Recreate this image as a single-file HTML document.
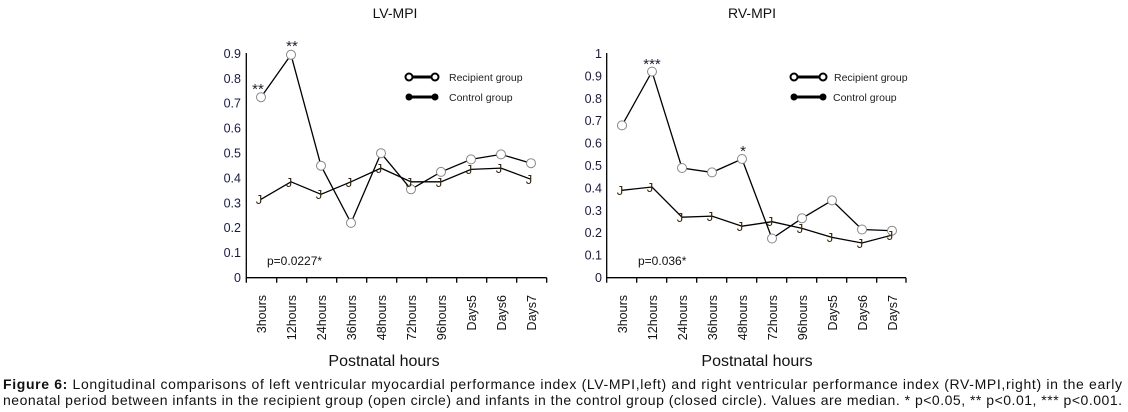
<!DOCTYPE html>
<html><head><meta charset="utf-8"><style>
body{margin:0;background:#fff;}
svg{display:block;font-family:"Liberation Sans",Arial,sans-serif;}
</style></head><body>
<svg width="1128" height="412" viewBox="0 0 1128 412" xmlns="http://www.w3.org/2000/svg">
<rect width="1128" height="412" fill="#fff"/>
<g font-size="14" fill="#111">
<text x="395" y="18" text-anchor="middle">LV-MPI</text>
<text x="752" y="18" text-anchor="middle">RV-MPI</text>
</g>
<g stroke="#000" stroke-width="1.3" fill="none">
<path d="M246.3 53 V277.7 H546.7"/>
<path d="M246.3 277.7v5 M276.7 277.7v5 M306.7 277.7v5 M336.7 277.7v5 M366.7 277.7v5 M396.7 277.7v5 M426.7 277.7v5 M456.7 277.7v5 M486.7 277.7v5 M516.7 277.7v5 M546.7 277.7v5"/>
<path d="M606.7 53 V277.7 H906 M606.7 277.7v5 M636.7 277.7v5 M666.7 277.7v5 M696.7 277.7v5 M726.7 277.7v5 M756.7 277.7v5 M786.7 277.7v5 M816.7 277.7v5 M846.7 277.7v5 M876.7 277.7v5 M906 277.7v5"/>
</g>
<g font-size="12.5" fill="#1a1a40" text-anchor="end">
<text x="241" y="282">0</text><text x="241" y="257.1">0.1</text><text x="241" y="232.2">0.2</text><text x="241" y="207.3">0.3</text><text x="241" y="182.4">0.4</text><text x="241" y="157.5">0.5</text><text x="241" y="132.6">0.6</text><text x="241" y="107.7">0.7</text><text x="241" y="82.8">0.8</text><text x="241" y="57.9">0.9</text>
<text x="602" y="282">0</text><text x="602" y="259.6">0.1</text><text x="602" y="237.2">0.2</text><text x="602" y="214.8">0.3</text><text x="602" y="192.4">0.4</text><text x="602" y="170">0.5</text><text x="602" y="147.6">0.6</text><text x="602" y="125.2">0.7</text><text x="602" y="102.8">0.8</text><text x="602" y="80.4">0.9</text><text x="602" y="58">1</text>
</g>
<g font-size="12.5" fill="#111" text-anchor="end">
<text transform="translate(266,295) rotate(-90)">3hours</text>
<text transform="translate(296,295) rotate(-90)">12hours</text>
<text transform="translate(326,295) rotate(-90)">24hours</text>
<text transform="translate(356,295) rotate(-90)">36hours</text>
<text transform="translate(386,295) rotate(-90)">48hours</text>
<text transform="translate(416,295) rotate(-90)">72hours</text>
<text transform="translate(446,295) rotate(-90)">96hours</text>
<text transform="translate(476,295) rotate(-90)">Days5</text>
<text transform="translate(506,295) rotate(-90)">Days6</text>
<text transform="translate(536,295) rotate(-90)">Days7</text>
<text transform="translate(627,295) rotate(-90)">3hours</text>
<text transform="translate(657,295) rotate(-90)">12hours</text>
<text transform="translate(687,295) rotate(-90)">24hours</text>
<text transform="translate(717,295) rotate(-90)">36hours</text>
<text transform="translate(747,295) rotate(-90)">48hours</text>
<text transform="translate(777,295) rotate(-90)">72hours</text>
<text transform="translate(807,295) rotate(-90)">96hours</text>
<text transform="translate(837,295) rotate(-90)">Days5</text>
<text transform="translate(867,295) rotate(-90)">Days6</text>
<text transform="translate(897,295) rotate(-90)">Days7</text>
</g>
<g font-size="16" fill="#111" text-anchor="middle">
<text x="384" y="366">Postnatal hours</text>
<text x="757" y="366">Postnatal hours</text>
</g>
<g fill="none" stroke="#000" stroke-width="1.3">
<polyline points="261,97.2 291,54.8 321,165.7 351,222.9 381,153.2 411,189.3 441,171.9 471,159.4 501,154.4 531,163.2"/>
<polyline points="261,199.3 291,181.8 321,194.3 351,181.8 381,168.1 411,181.8 441,181.8 471,169.4 501,168.1 531,179.3"/>
<polyline points="622,125.4 652,71.6 682,168 712,172.4 742,159 772,238.5 802,218.3 832,200.4 862,229.5 892,230.7"/>
<polyline points="622,190.3 652,187 682,217.2 712,216.1 742,226.2 772,221.7 802,228.4 832,237.4 862,243 892,235.1"/>
</g>
<g fill="#fff" stroke="#888" stroke-width="1">
<circle cx="261" cy="97.2" r="4.5"/><circle cx="291" cy="54.8" r="4.5"/><circle cx="321" cy="165.7" r="4.5"/><circle cx="351" cy="222.9" r="4.5"/><circle cx="381" cy="153.2" r="4.5"/><circle cx="411" cy="189.3" r="4.5"/><circle cx="441" cy="171.9" r="4.5"/><circle cx="471" cy="159.4" r="4.5"/><circle cx="501" cy="154.4" r="4.5"/><circle cx="531" cy="163.2" r="4.5"/>
<circle cx="622" cy="125.4" r="4.5"/><circle cx="652" cy="71.6" r="4.5"/><circle cx="682" cy="168" r="4.5"/><circle cx="712" cy="172.4" r="4.5"/><circle cx="742" cy="159" r="4.5"/><circle cx="772" cy="238.5" r="4.5"/><circle cx="802" cy="218.3" r="4.5"/><circle cx="832" cy="200.4" r="4.5"/><circle cx="862" cy="229.5" r="4.5"/><circle cx="892" cy="230.7" r="4.5"/>
</g>
<g font-size="13" fill="#3a2a10" text-anchor="middle">
<text x="259" y="204">J</text><text x="289" y="187">J</text><text x="319" y="199">J</text><text x="349" y="187">J</text><text x="379" y="173">J</text><text x="409" y="187">J</text><text x="439" y="187">J</text><text x="469" y="174">J</text><text x="499" y="173">J</text><text x="529" y="184">J</text>
<text x="620" y="195">J</text><text x="650" y="192">J</text><text x="680" y="222">J</text><text x="710" y="221">J</text><text x="740" y="231">J</text><text x="770" y="226">J</text><text x="800" y="233">J</text><text x="830" y="242">J</text><text x="860" y="248">J</text><text x="890" y="240">J</text>
</g>
<g font-size="15" fill="#223" text-anchor="middle">
<text x="258" y="94">**</text><text x="292" y="51">**</text>
<text x="652" y="69">***</text><text x="743" y="156">*</text>
</g>
<g font-size="12" fill="#111">
<text x="267" y="265">p=0.0227*</text>
<text x="638" y="265">p=0.036*</text>
</g>
<g stroke="#000" stroke-width="3">
<line x1="409" y1="77" x2="435" y2="77"/><line x1="409" y1="97" x2="435" y2="97"/>
<line x1="794" y1="77" x2="823" y2="77"/><line x1="794" y1="97" x2="823" y2="97"/>
</g>
<g stroke="#000" stroke-width="2" fill="#fff">
<circle cx="409" cy="77" r="3.5"/><circle cx="435" cy="77" r="3.5"/>
<circle cx="794" cy="77" r="3.5"/><circle cx="823" cy="77" r="3.5"/>
</g>
<g fill="#000"><circle cx="409" cy="97" r="3.5"/><circle cx="435" cy="97" r="3.5"/><circle cx="794" cy="97" r="3.5"/><circle cx="823" cy="97" r="3.5"/></g>
<g font-size="10.5" fill="#222">
<text x="449" y="81">Recipient group</text><text x="449" y="101">Control group</text>
<text x="834" y="81">Recipient group</text><text x="833" y="101">Control group</text>
</g>
<g font-size="14" fill="#111">
<text x="3" y="389" textLength="1119" lengthAdjust="spacing"><tspan font-weight="bold">Figure 6:</tspan> Longitudinal comparisons of left ventricular myocardial performance index (LV-MPI,left) and right ventricular performance index (RV-MPI,right) in the early</text>
<text x="3" y="405" textLength="1119" lengthAdjust="spacing">neonatal period between infants in the recipient group (open circle) and infants in the control group (closed circle). Values are median. * p&lt;0.05, ** p&lt;0.01, *** p&lt;0.001.</text>
</g>
</svg>
</body></html>
